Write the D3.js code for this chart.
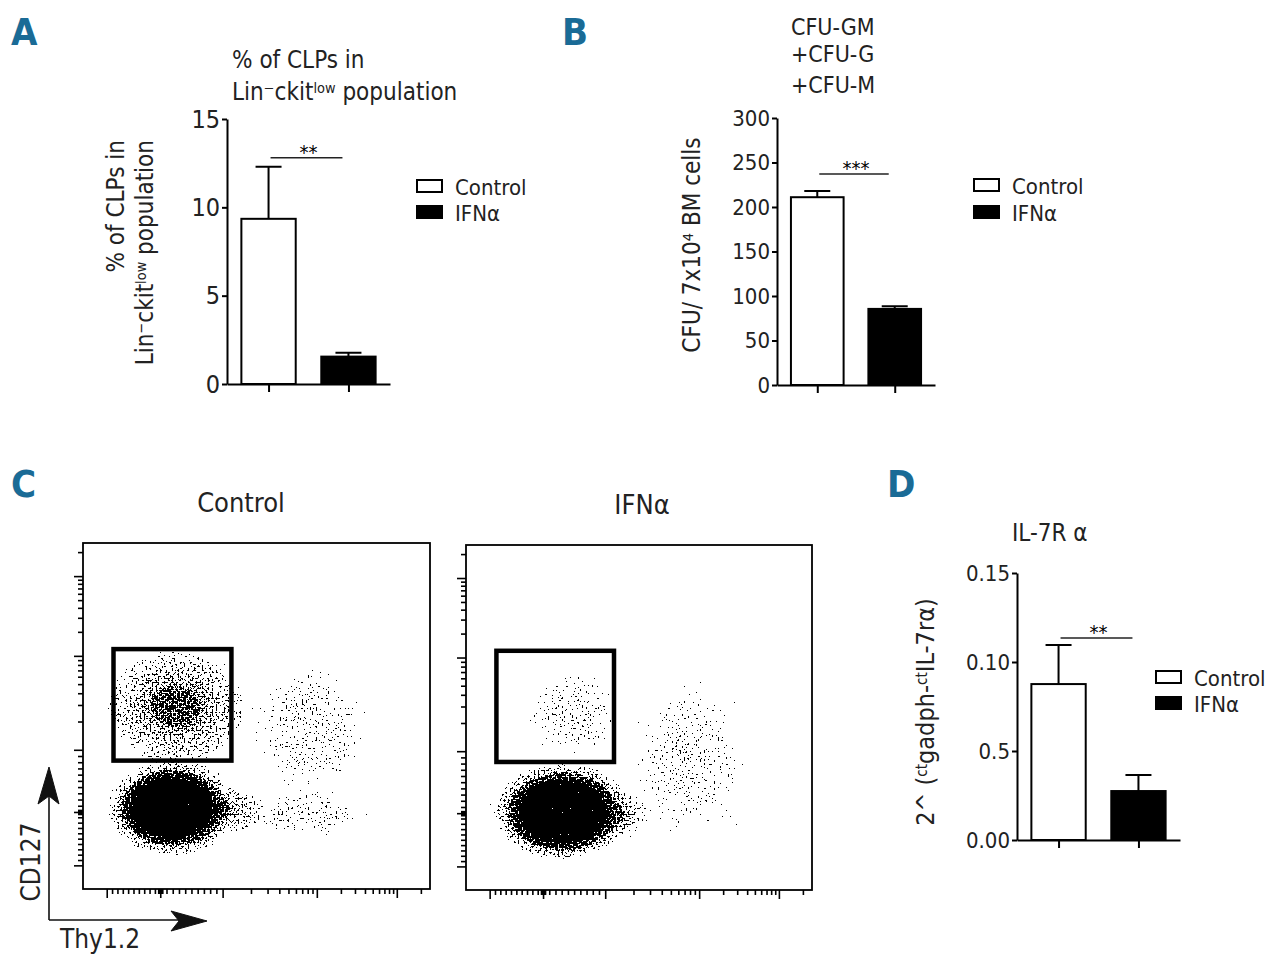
<!DOCTYPE html>
<html>
<head>
<meta charset="utf-8">
<script src="https://cdn.jsdelivr.net/npm/d3@7"></script>
<style>
body { margin: 0; background: #fff; }
svg { display: block; }
</style>
</head>
<body>
<div id="chart"></div>
<script>
var F = "'Liberation Sans Narrow', 'Arial Narrow', 'DejaVu Sans Condensed', sans-serif";
var groups = ["Control", "IFNα"];

// A: % of CLPs
var clpMean = [9.35, 1.55];
var clpSem = [2.95, 0.22];
var clpTicks = [0, 5, 10, 15];

// B: CFU per 7x10^4 BM cells
var cfuMean = [211, 85.5];
var cfuSem = [7, 3];
var cfuTicks = [0, 50, 100, 150, 200, 250, 300];

// D: IL-7R alpha expression
var il7Mean = [0.0876, 0.0275];
var il7Sem = [0.022, 0.009];
var il7Ticks = [0, 0.05, 0.10, 0.15];
var il7TickLabels = ["0.00", "0.5", "0.10", "0.15"];

// C: flow populations, channel units 0-1024: [cx, cy, rx, ry, peak density, falloff]
var ctrlPops = [
    [263, 239, 190, 140, 4, 3],
    [268, 248, 215, 170, 0.35, 1.5],
    [275, 540, 222, 178, 0.62, 1.2],
    [449, 233, 90, 74, 0.4, 2],
    [650, 219, 220, 80, 0.12, 0.8],
    [671, 470, 207, 251, 0.11, 0.6]
];
var ifnPops = [
    [287, 232, 205, 145, 4, 3],
    [278, 237, 222, 163, 0.35, 1.5],
    [315, 525, 160, 160, 0.12, 0.5],
    [471, 223, 74, 74, 0.35, 2],
    [663, 386, 222, 311, 0.1, 0.6]
];
var flowGate = [90, 438, 380, 710];
var flowDecades = [70, 228, 412, 690, 926];

var svg = d3.select("#chart").append("svg")
    .attr("width", 1280)
    .attr("height", 960)
    .attr("font-family", F);
var defs = svg.append("defs");

function rich(sel, parts){
    // parts: [text, isSuperscript]
    var shifted = false;
    parts.forEach(function(p){
        var t = sel.append("tspan").text(p[0]);
        if(p[1] && !shifted){ t.attr("font-size", "0.6em").attr("dy", "-0.5em"); shifted = true; }
        else if(!p[1] && shifted){ t.attr("dy", "0.3em"); shifted = false; }
        else if(p[1]){ t.attr("font-size", "0.6em"); }
    });
    return sel;
}

function panelLabel(txt, x, y){
    svg.append("text").attr("x", x).attr("y", y).text(txt)
        .attr("font-size", 38).attr("font-weight", "bold").attr("fill", "#1a6b96");
}

function legend(x, y, step){
    groups.forEach(function(d, i){
        svg.append("rect").attr("x", x).attr("y", y + i*step).attr("width", 25).attr("height", 12)
            .attr("fill", i ? "#000" : "#fff").attr("stroke", "#000").attr("stroke-width", 2);
        svg.append("text").attr("x", x + 38).attr("y", y + i*step + 15).text(d)
            .attr("font-size", 22).attr("fill", "#222");
    });
}

function bars(cfg){
    var y = d3.scaleLinear().domain([0, cfg.max]).range([cfg.y0, cfg.y1]);
    var x = d3.scalePoint().domain(groups).range([cfg.x0, cfg.x1]).padding(0.52);
    var bw = x.step() * 0.68;
    var g = svg.append("g");

    var ya = g.append("g").attr("transform", "translate(" + cfg.x0 + ",0)")
        .call(d3.axisLeft(y).tickValues(cfg.ticks)
            .tickFormat(function(d, i){ return cfg.labels ? cfg.labels[i] : d; })
            .tickSize(5).tickSizeOuter(0).tickPadding(2));
    ya.attr("font-family", F).attr("font-size", cfg.fs);
    ya.selectAll("text").attr("fill", "#222");

    g.append("g").attr("transform", "translate(0," + cfg.y0 + ")")
        .call(d3.axisBottom(x).tickSize(8).tickSizeOuter(0).tickFormat(""));
    g.selectAll(".domain, .tick line").attr("stroke-width", 2);

    g.selectAll(".err").data(groups).join("path")
        .attr("class", "err")
        .attr("d", function(d, i){
            var top = y(cfg.mean[i] + cfg.sem[i]);
            return "M" + x(d) + "," + y(cfg.mean[i]) + "V" + top + "M" + (x(d) - 13) + "," + top + "H" + (x(d) + 13);
        })
        .attr("stroke", "#000").attr("stroke-width", 2).attr("fill", "none");

    g.selectAll(".bar").data(groups).join("rect")
        .attr("class", "bar")
        .attr("x", function(d){ return x(d) - bw/2; })
        .attr("y", function(d, i){ return y(cfg.mean[i]); })
        .attr("width", bw)
        .attr("height", function(d, i){ return y(0) - y(cfg.mean[i]); })
        .attr("fill", function(d, i){ return i ? "#000" : "#fff"; })
        .attr("stroke", "#000").attr("stroke-width", 2);

    var sy = y(cfg.sig);
    g.append("line").attr("x1", x(groups[0]) + 2).attr("x2", x(groups[1]) - 6)
        .attr("y1", sy).attr("y2", sy).attr("stroke", "#222").attr("stroke-width", 1.5);
    g.append("text").attr("x", (x(groups[0]) + x(groups[1])) / 2).attr("y", sy + 1)
        .attr("text-anchor", "middle").attr("font-size", 20).text(cfg.stars);
}

function flow(cfg){
    var xs = d3.scaleLinear().domain([0, 1024]).range([cfg.x, cfg.x + cfg.w]);
    var ys = d3.scaleLinear().domain([0, 1024]).range([cfg.y + cfg.h, cfg.y]);

    defs.append("clipPath").attr("id", cfg.id + "clip").append("rect")
        .attr("x", cfg.x).attr("y", cfg.y).attr("width", cfg.w).attr("height", cfg.h);

    // stipple: density (alpha) + noise, thresholded
    var f = defs.append("filter").attr("id", cfg.id + "st")
        .attr("filterUnits", "userSpaceOnUse")
        .attr("x", cfg.x).attr("y", cfg.y).attr("width", cfg.w).attr("height", cfg.h)
        .attr("color-interpolation-filters", "sRGB");
    f.append("feTurbulence").attr("type", "fractalNoise").attr("baseFrequency", 0.5)
        .attr("numOctaves", 1).attr("seed", cfg.seed).attr("result", "noise");
    f.append("feColorMatrix").attr("in", "noise").attr("type", "matrix")
        .attr("values", "0 0 0 0 0  0 0 0 0 0  0 0 0 0 0  1 0 0 0 0").attr("result", "na");
    f.append("feComponentTransfer").attr("in", "na").attr("result", "nu")
        .append("feFuncA").attr("type", "table")
        .attr("tableValues", "0 0.001 0.01 0.06 0.22 0.5 0.78 0.94 0.99 0.999 1");
    f.append("feComposite").attr("in", "SourceGraphic").attr("in2", "nu")
        .attr("operator", "arithmetic").attr("k1", 0).attr("k2", 1).attr("k3", 1).attr("k4", -0.51)
        .attr("result", "sum");
    f.append("feComponentTransfer").attr("in", "sum")
        .append("feFuncA").attr("type", "discrete").attr("tableValues", "0 1");

    cfg.pops.forEach(function(p, i){
        var gr = defs.append("radialGradient").attr("id", cfg.id + "g" + i);
        d3.range(0, 1.01, 0.1).forEach(function(t){
            var k = p[5];
            var v = p[4] * (Math.exp(-k*t*t) - Math.exp(-k)) / (1 - Math.exp(-k));
            gr.append("stop").attr("offset", t).attr("stop-color", "#000")
                .attr("stop-opacity", Math.min(1, v));
        });
    });

    var pg = svg.append("g").attr("clip-path", "url(#" + cfg.id + "clip)")
        .append("g").attr("filter", "url(#" + cfg.id + "st)");
    pg.selectAll("ellipse").data(cfg.pops).join("ellipse")
        .attr("cx", function(p){ return xs(p[0]); })
        .attr("cy", function(p){ return ys(p[1]); })
        .attr("rx", function(p){ return xs(p[2]) - xs(0); })
        .attr("ry", function(p){ return ys(0) - ys(p[3]); })
        .attr("fill", function(p, i){ return "url(#" + cfg.id + "g" + i + ")"; });

    // axes
    var minor = [];
    for(var k = 2; k <= 9; k++){
        minor.push(flowDecades[2] + (flowDecades[3] - flowDecades[2]) * Math.log10(k));
        minor.push(flowDecades[3] + (flowDecades[4] - flowDecades[3]) * Math.log10(k));
    }
    minor.push(flowDecades[4] + (flowDecades[4] - flowDecades[3]) * Math.log10(2));
    for(var j = 1; j <= 9; j++){
        minor.push(flowDecades[1] + (flowDecades[2] - flowDecades[1]) * j / 10);
        minor.push(flowDecades[1] - (flowDecades[1] - flowDecades[0]) * j / 10);
    }
    [-6, -3, 3, 6].forEach(function(o){ minor.push(flowDecades[1] + o); });

    [[flowDecades, 9], [minor, 5]].forEach(function(s){
        svg.append("g").attr("transform", "translate(" + cfg.x + ",0)")
            .call(d3.axisLeft(ys).tickValues(s[0]).tickSize(s[1]).tickFormat(""))
            .call(function(a){ a.select(".domain").remove(); })
            .selectAll("line").attr("stroke-width", 1.6);
        svg.append("g").attr("transform", "translate(0," + (cfg.y + cfg.h) + ")")
            .call(d3.axisBottom(xs).tickValues(s[0]).tickSize(s[1]).tickFormat(""))
            .call(function(a){ a.select(".domain").remove(); })
            .selectAll("line").attr("stroke-width", 1.6);
    });

    svg.append("rect").attr("x", cfg.x).attr("y", cfg.y).attr("width", cfg.w).attr("height", cfg.h)
        .attr("fill", "none").attr("stroke", "#000").attr("stroke-width", 1.8);

    svg.append("rect")
        .attr("x", xs(flowGate[0])).attr("y", ys(flowGate[3]))
        .attr("width", xs(flowGate[1]) - xs(flowGate[0]))
        .attr("height", ys(flowGate[2]) - ys(flowGate[3]))
        .attr("fill", "none").attr("stroke", "#000").attr("stroke-width", 4.5);

    svg.append("text").attr("x", cfg.x + cfg.tx).attr("y", cfg.y - 31)
        .attr("text-anchor", "middle").attr("font-size", 27).attr("fill", "#222").text(cfg.title);
}

// ---------- A ----------
panelLabel("A", 11, 45);
svg.append("text").attr("x", 232).attr("y", 68).attr("font-size", 24).attr("fill", "#222").text("% of CLPs in");
rich(svg.append("text").attr("x", 232).attr("y", 100).attr("font-size", 24).attr("fill", "#222"),
    [["Lin", 0], ["\u2212", 1], ["ckit", 0], ["low", 1], [" population", 0]]);
var ylA = svg.append("g").attr("transform", "rotate(-90)").attr("font-size", 24).attr("fill", "#222");
ylA.append("text").attr("x", -140).attr("y", 124).attr("text-anchor", "end").text("% of CLPs in");
rich(ylA.append("text").attr("x", -140).attr("y", 153).attr("text-anchor", "end"),
    [["Lin", 0], ["\u2212", 1], ["ckit", 0], ["low", 1], [" population", 0]]);
bars({x0: 227, x1: 390, y0: 384, y1: 119, max: 15, ticks: clpTicks, fs: 25,
      mean: clpMean, sem: clpSem, sig: 12.8, stars: "**"});
legend(417, 180, 26);

// ---------- B ----------
panelLabel("B", 562, 45);
["CFU-GM", "+CFU-G", "+CFU-M"].forEach(function(t, i){
    svg.append("text").attr("x", 791).attr("y", [35, 62, 93][i]).attr("font-size", 23)
        .attr("fill", "#222").text(t);
});
rich(svg.append("text").attr("transform", "translate(700,245) rotate(-90)")
        .attr("text-anchor", "middle").attr("font-size", 24).attr("fill", "#222"),
    [["CFU/ 7x10", 0], ["4", 1], [" BM cells", 0]]);
bars({x0: 777, x1: 935, y0: 385, y1: 118, max: 300, ticks: cfuTicks, fs: 22,
      mean: cfuMean, sem: cfuSem, sig: 237, stars: "***"});
legend(974, 179, 27);

// ---------- C ----------
panelLabel("C", 11, 497);
flow({id: "ctl", x: 83, y: 543, w: 347, h: 346, pops: ctrlPops, title: "Control", tx: 158, seed: 4});
flow({id: "ifn", x: 466, y: 545, w: 346, h: 345, pops: ifnPops, title: "IFNα", tx: 176, seed: 9});

var ar = svg.append("g").attr("fill", "#111").attr("stroke", "#111");
ar.append("path").attr("d", "M49,920V795M49,920H180").attr("fill", "none").attr("stroke-width", 1.6);
ar.append("path").attr("d", "M49,767L59,804L49,796L38,804Z").attr("stroke-width", 1);
ar.append("path").attr("d", "M207,921L171,911L179,921L171,931Z").attr("stroke-width", 1);
svg.append("text").attr("transform", "translate(40,862) rotate(-90)").attr("text-anchor", "middle")
    .attr("font-size", 26).attr("fill", "#222").text("CD127");
svg.append("text").attr("x", 60).attr("y", 948).attr("font-size", 26).attr("fill", "#222").text("Thy1.2");

// ---------- D ----------
panelLabel("D", 887, 497);
svg.append("text").attr("x", 1012).attr("y", 541).attr("font-size", 24).attr("fill", "#222").text("IL-7R α");
rich(svg.append("text").attr("transform", "translate(934,712) rotate(-90)")
        .attr("text-anchor", "middle").attr("font-size", 25).attr("fill", "#222"),
    [["2^ (", 0], ["ct", 1], ["gadph-", 0], ["ct", 1], ["IL-7r\u03b1)", 0]]);
bars({x0: 1017, x1: 1180, y0: 840, y1: 573, max: 0.15, ticks: il7Ticks, labels: il7TickLabels, fs: 22,
      mean: il7Mean, sem: il7Sem, sig: 0.1135, stars: "**"});
legend(1156, 671, 26);
</script>
</body>
</html>
